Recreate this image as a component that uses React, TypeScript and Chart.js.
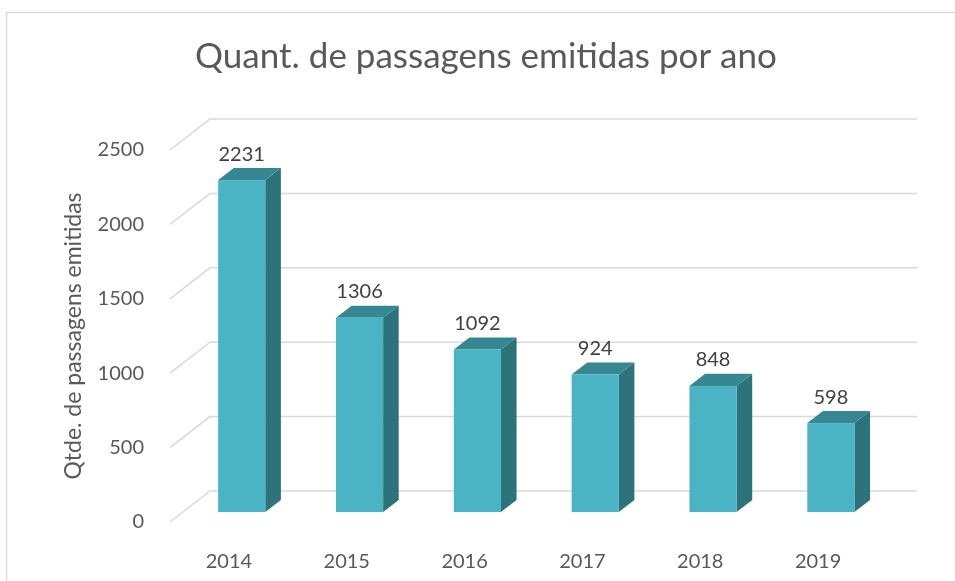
import { useEffect, useRef } from "react";
import { Chart, registerables } from "chart.js";

Chart.register(...registerables);

const categories = ["2014", "2015", "2016", "2017", "2018", "2019"];
const values = [2231, 1306, 1092, 924, 848, 598];
const yTicks = [0, 500, 1000, 1500, 2000, 2500];
const titleText = "Quant. de passagens emitidas por ano";
const yTitleText = "Qtde. de passagens emitidas";

const FONT = "Lato, 'Open Sans', sans-serif";
const DEPTH_X = 40;
const DEPTH_Y = -31;
const FRONT_F = 0.32;
const BACK_F = 0.71;

const frame3d = {
  id: "frame3d",
  beforeDraw(chart: any) {
    const ctx = chart.ctx;
    ctx.save();
    ctx.fillStyle = "#ffffff";
    ctx.fillRect(0, 0, chart.width, chart.height);
    ctx.strokeStyle = "#d9d9d9";
    ctx.lineWidth = 1.5;
    ctx.strokeRect(6.5, 12.5, chart.width + 20, chart.height + 20);
    ctx.fillStyle = "#595959";
    ctx.font = `35px ${FONT}`;
    ctx.textAlign = "center";
    ctx.textBaseline = "middle";
    ctx.fillText(titleText, 486, 57);
    ctx.restore();
  },
  beforeDatasetsDraw(chart: any) {
    const ctx = chart.ctx;
    const y = chart.scales.y;
    const { left, right } = chart.chartArea;
    ctx.save();
    ctx.strokeStyle = "#d9d9d9";
    ctx.lineWidth = 1.5;
    yTicks.forEach((v) => {
      const py = y.getPixelForValue(v);
      ctx.beginPath();
      ctx.moveTo(left, py);
      ctx.lineTo(left + DEPTH_X, py + DEPTH_Y);
      ctx.lineTo(right + DEPTH_X, py + DEPTH_Y);
      ctx.stroke();
    });
    ctx.restore();
  },
  afterDatasetsDraw(chart: any) {
    const ctx = chart.ctx;
    const meta = chart.getDatasetMeta(0);
    const ox = DEPTH_X * FRONT_F;
    const oy = DEPTH_Y * FRONT_F;
    const dx = DEPTH_X * (BACK_F - FRONT_F);
    const dy = DEPTH_Y * (BACK_F - FRONT_F);
    ctx.save();
    meta.data.forEach((bar: any, i: number) => {
      const w = bar.width;
      const x0 = bar.x - w / 2 + ox;
      const x1 = bar.x + w / 2 + ox;
      const yt = bar.y + oy;
      const yb = bar.base + oy;
      ctx.fillStyle = "#2c737b";
      ctx.beginPath();
      ctx.moveTo(x1, yt);
      ctx.lineTo(x1 + dx, yt + dy);
      ctx.lineTo(x1 + dx, yb + dy);
      ctx.lineTo(x1, yb);
      ctx.closePath();
      ctx.fill();
      ctx.fillStyle = "#378792";
      ctx.beginPath();
      ctx.moveTo(x0, yt);
      ctx.lineTo(x0 + dx, yt + dy);
      ctx.lineTo(x1 + dx, yt + dy);
      ctx.lineTo(x1, yt);
      ctx.closePath();
      ctx.fill();
      ctx.fillStyle = "#4ab4c4";
      ctx.fillRect(x0, yt, x1 - x0, yb - yt);
      ctx.fillStyle = "#404040";
      ctx.font = `20px ${FONT}`;
      ctx.textAlign = "center";
      ctx.textBaseline = "middle";
      ctx.fillText(String(values[i]), bar.x + ox, yt - 26);
    });
    ctx.restore();
  },
};

export default function App() {
  const ref = useRef<HTMLCanvasElement>(null);
  useEffect(() => {
    document.body.style.margin = "0";
    const chart = new Chart(ref.current!, {
      type: "bar",
      data: {
        labels: categories,
        datasets: [
          {
            data: values,
            backgroundColor: "rgba(0,0,0,0)",
            borderWidth: 0,
            categoryPercentage: 1,
            barPercentage: 0.4,
          },
        ],
      },
      options: {
        responsive: false,
        animation: false,
        layout: { padding: { left: 0, right: 78, top: 150, bottom: 0 } },
        plugins: {
          legend: { display: false },
          tooltip: { enabled: false },
          title: { display: false },
        },
        scales: {
          x: {
            grid: { display: false },
            border: { display: false },
            ticks: {
              color: "#595959",
              font: { family: FONT, size: 20 },
              padding: 20,
              maxRotation: 0,
            },
            afterFit(scale: any) {
              scale.height = 59;
            },
          },
          y: {
            min: 0,
            max: 2500,
            grid: { display: false },
            border: { display: false },
            ticks: {
              stepSize: 500,
              color: "#595959",
              font: { family: FONT, size: 20 },
              padding: 18,
              callback: (v: any) => String(v),
            },
            title: {
              display: true,
              text: yTitleText,
              color: "#595959",
              font: { family: FONT, size: 23 },
              padding: { top: 60, bottom: 0 },
            },
            afterFit(scale: any) {
              scale.width = 170;
            },
          },
        },
      },
      plugins: [frame3d],
    });
    return () => chart.destroy();
  }, []);
  return <canvas ref={ref} width={955} height={581} style={{ display: "block" }} />;
}
